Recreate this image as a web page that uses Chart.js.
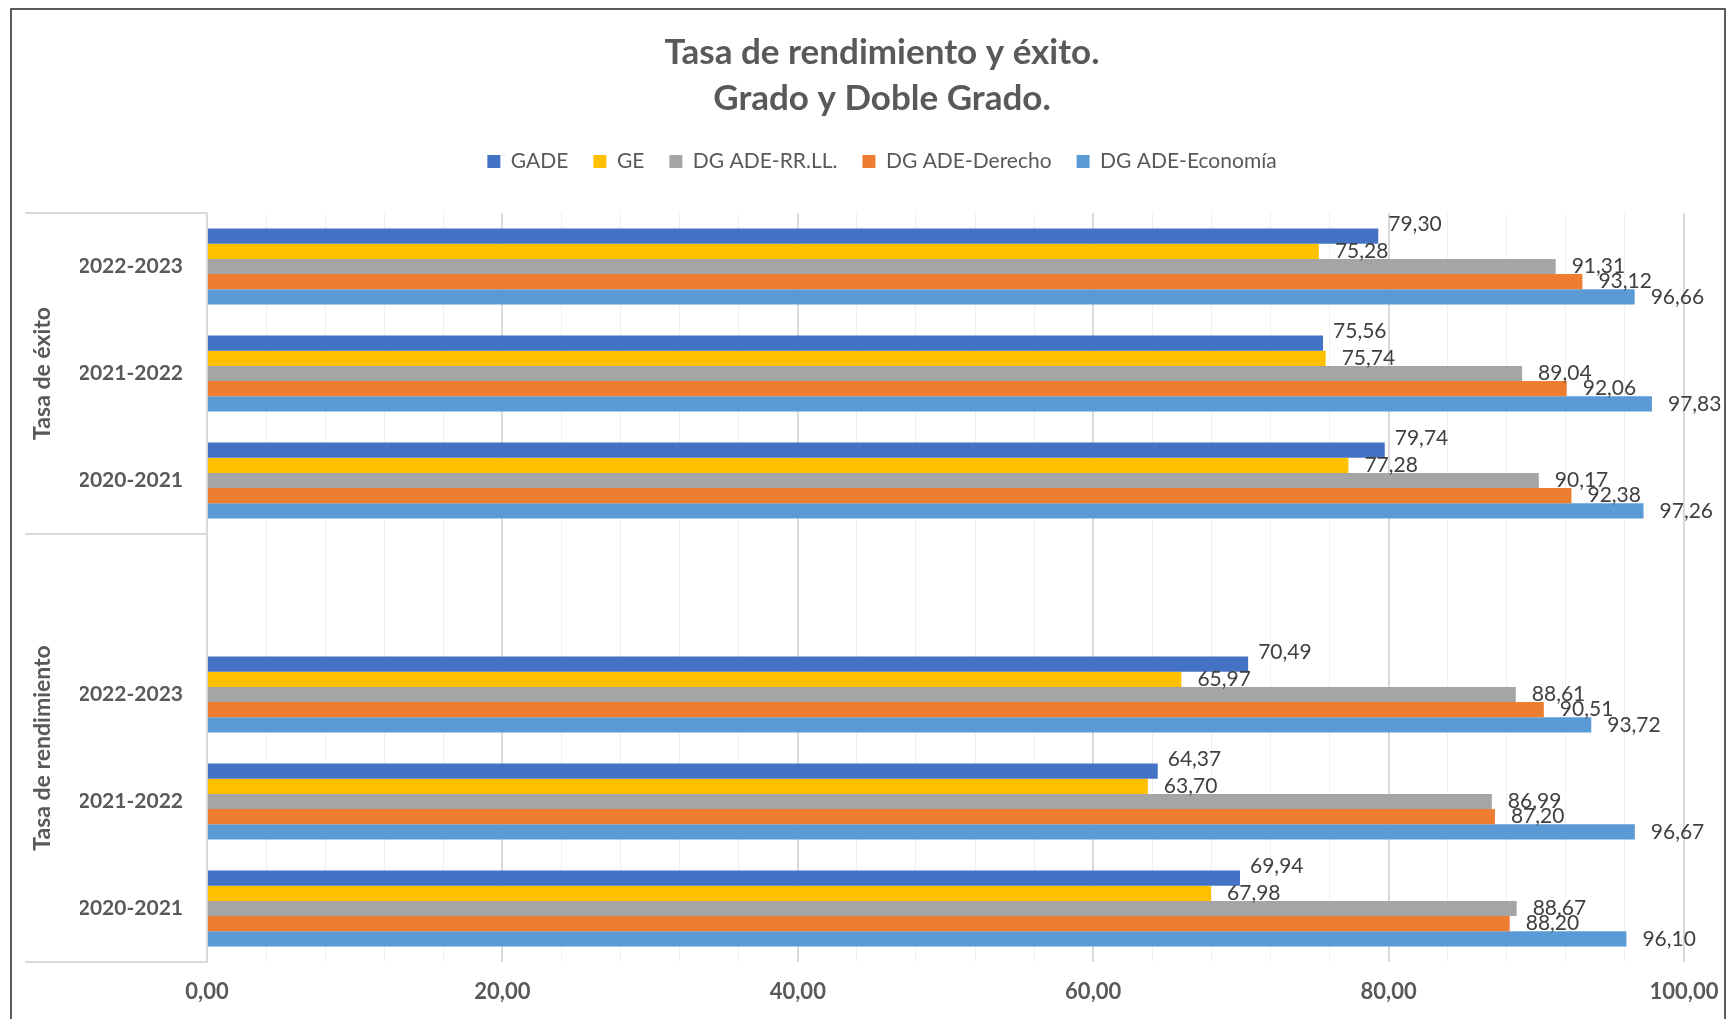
<!DOCTYPE html>
<html lang="es">
<head>
<meta charset="utf-8">
<title>Tasa de rendimiento y éxito</title>
<script src="https://cdn.jsdelivr.net/npm/chart.js@4.4.1/dist/chart.umd.min.js"></script>
<style>
    html, body { margin: 0; padding: 0; background: #fff; }
    #conteiner-grafico { width: 1728px; height: 1019px; }
</style>
</head>
<body>
<div id="conteiner-grafico"><canvas id="grafico"></canvas></div>
<script>
// categorias de arriba hacia abajo (la fila vacia separa los dos grupos)
const categorias = ['2022-2023', '2021-2022', '2020-2021', '', '2022-2023', '2021-2022', '2020-2021'];
const grupos = ['Tasa de éxito', 'Tasa de rendimiento'];
const filasPorGrupo = [3, 4];

const series = ['GADE', 'GE', 'DG ADE-RR.LL.', 'DG ADE-Derecho', 'DG ADE-Economía'];
const valoresGADE = [79.30, 75.56, 79.74, null, 70.49, 64.37, 69.94];
const valoresGE = [75.28, 75.74, 77.28, null, 65.97, 63.70, 67.98];
const valoresRRLL = [91.31, 89.04, 90.17, null, 88.61, 86.99, 88.67];
const valoresDerecho = [93.12, 92.06, 92.38, null, 90.51, 87.20, 88.20];
const valoresEconomia = [96.66, 97.83, 97.26, null, 93.72, 96.67, 96.10];

const marcasX = [0, 20, 40, 60, 80, 100];

const cores = ['#4472C4', '#FFC000', '#A5A5A5', '#ED7D31', '#5B9BD5'];
const corTexto = '#595959';
const fonte = 'Lato, "Open Sans", sans-serif';

function formatar(v) {
    return v.toFixed(2).replace('.', ',');
}

// marco exterior, lineas de la tabla de categorias y rotulos de grupo
const tabelaCategorias = {
    id: 'tabelaCategorias',
    beforeInit(chart) {
        const fitOriginal = chart.legend.fit;
        chart.legend.fit = function () {
            fitOriginal.call(this);
            this.height += 31;
        };
    },
    afterDraw(chart) {
        const ctx = chart.ctx;
        const area = chart.chartArea;
        const passo = (area.bottom - area.top) / categorias.length;

        ctx.save();
        ctx.strokeStyle = '#262626';
        ctx.lineWidth = 1.5;
        ctx.strokeRect(11, 9, 1714, 1100);

        ctx.strokeStyle = '#d9d9d9';
        ctx.lineWidth = 2;
        let inicio = 0;
        const limites = [area.top];
        filasPorGrupo.forEach(n => {
            inicio += n;
            limites.push(area.top + passo * inicio);
        });
        limites.forEach(ly => {
            ctx.beginPath();
            ctx.moveTo(25, ly);
            ctx.lineTo(area.left, ly);
            ctx.stroke();
        });

        ctx.fillStyle = corTexto;
        ctx.font = 'bold 23px ' + fonte;
        ctx.textAlign = 'center';
        ctx.textBaseline = 'middle';
        grupos.forEach((g, i) => {
            const centro = (limites[i] + limites[i + 1]) / 2;
            ctx.save();
            ctx.translate(43, centro);
            ctx.rotate(-Math.PI / 2);
            ctx.fillText(g, 0, 0);
            ctx.restore();
        });
        ctx.restore();
    },
    afterDatasetsDraw(chart) {
        const ctx = chart.ctx;
        ctx.save();
        ctx.fillStyle = '#404040';
        ctx.font = '21px ' + fonte;
        ctx.textAlign = 'left';
        ctx.textBaseline = 'middle';
        chart.data.datasets.forEach((ds, i) => {
            // la primera serie lleva la etiqueta algo por encima de la barra, como en Excel
            const dx = i === 0 ? 10 : 16;
            const dy = i === 0 ? -12 : 0;
            chart.getDatasetMeta(i).data.forEach((barra, j) => {
                const v = ds.data[j];
                if (v === null) return;
                ctx.fillText(formatar(v), barra.x + dx, barra.y + dy);
            });
        });
        ctx.restore();
    }
};

const valores = [valoresGADE, valoresGE, valoresRRLL, valoresDerecho, valoresEconomia];

new Chart(document.getElementById('grafico'), {
    type: 'bar',
    data: {
        labels: categorias,
        datasets: series.map((nome, i) => ({
            label: nome,
            data: valores[i],
            backgroundColor: cores[i],
            borderWidth: 0,
            barPercentage: 1,
            categoryPercentage: 0.71
        }))
    },
    options: {
        indexAxis: 'y',
        responsive: true,
        maintainAspectRatio: false,
        animation: false,
        devicePixelRatio: 1,
        layout: { padding: { left: 80, right: 44, top: 0, bottom: 12 } },
        plugins: {
            title: {
                display: true,
                text: ['Tasa de rendimiento y éxito.', 'Grado y Doble Grado.'],
                color: corTexto,
                font: { size: 35, weight: 'bold', family: fonte, lineHeight: 1.314 },
                padding: { top: 30, bottom: 4 }
            },
            legend: {
                display: true,
                position: 'top',
                labels: {
                    boxWidth: 13,
                    boxHeight: 13,
                    padding: 25,
                    color: corTexto,
                    font: { size: 21, family: fonte }
                }
            },
            tooltip: { enabled: false }
        },
        scales: {
            x: {
                min: 0,
                max: 100,
                afterFit(scale) {
                    scale.height = 45;
                    scale.paddingLeft = 0;
                    scale.paddingRight = 0;
                },
                ticks: {
                    stepSize: 4,
                    autoSkip: false,
                    maxRotation: 0,
                    minRotation: 0,
                    padding: 17,
                    color: corTexto,
                    font: { size: 22, weight: 'bold', family: fonte },
                    callback: v => marcasX.includes(v) ? formatar(v) : ''
                },
                grid: {
                    drawTicks: false,
                    color: c => (c.tick && c.tick.value % 20 === 0) ? '#d9d9d9' : '#f0f0f0',
                    lineWidth: c => (c.tick && c.tick.value % 20 === 0) ? 2 : 1
                },
                border: { display: false }
            },
            y: {
                afterFit(scale) {
                    scale.width = 127;
                    scale.paddingTop = 0;
                    scale.paddingBottom = 0;
                },
                ticks: {
                    padding: 24,
                    color: corTexto,
                    font: { size: 21, weight: 'bold', family: fonte }
                },
                grid: { display: false, drawTicks: false },
                border: { display: true, color: '#d9d9d9', width: 2 }
            }
        }
    },
    plugins: [tabelaCategorias]
});
</script>
</body>
</html>
